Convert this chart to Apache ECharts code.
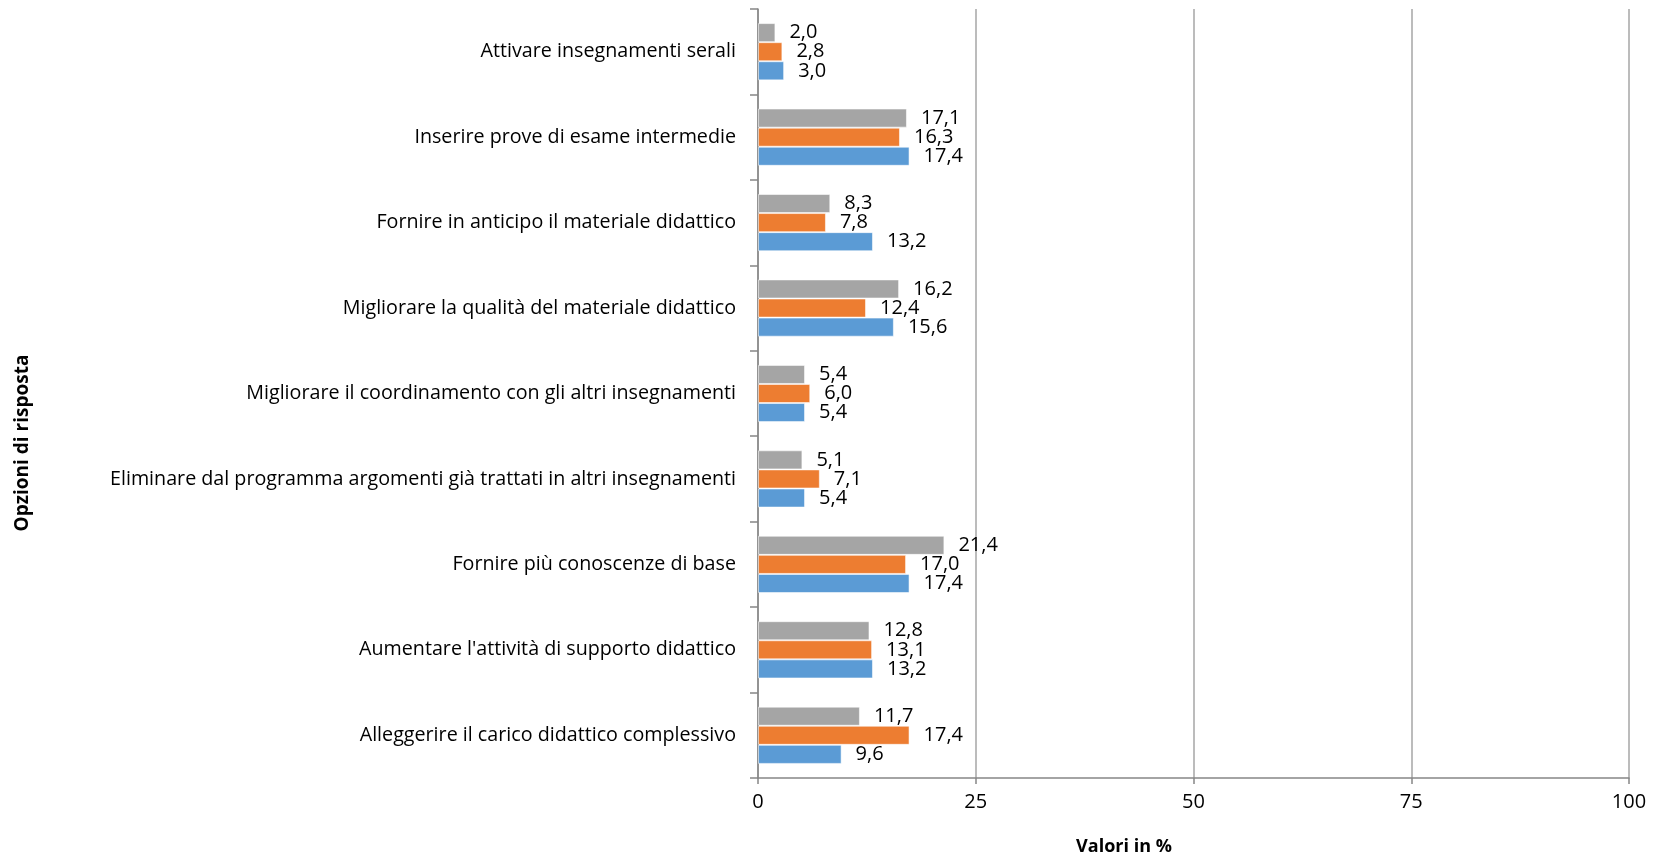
<!DOCTYPE html>
<html>
<head>
<meta charset="utf-8">
<style>
  html, body { margin: 0; padding: 0; background: #fff; }
  #chart { width: 1656px; height: 858px; }
</style>
<script src="https://cdn.jsdelivr.net/npm/echarts@6/dist/echarts.min.js"></script>
</head>
<body>
<div id="chart"></div>
<script>
// categories listed bottom to top (first one sits next to the value axis)
const categories = [
  'Alleggerire il carico didattico complessivo',
  "Aumentare l'attività di supporto didattico",
  'Fornire più conoscenze di base',
  'Eliminare dal programma argomenti già trattati in altri insegnamenti',
  'Migliorare il coordinamento con gli altri insegnamenti',
  'Migliorare la qualità del materiale didattico',
  'Fornire in anticipo il materiale didattico',
  'Inserire prove di esame intermedie',
  'Attivare insegnamenti serali'
]
const blueValues = [9.6, 13.2, 17.4, 5.4, 5.4, 15.6, 13.2, 17.4, 3.0]
const orangeValues = [17.4, 13.1, 17.0, 7.1, 6.0, 12.4, 7.8, 16.3, 2.8]
const grayValues = [11.7, 12.8, 21.4, 5.1, 5.4, 16.2, 8.3, 17.1, 2.0]
const valueTicks = [0, 25, 50, 75, 100]

const FONT = '"Open Sans", "Noto Sans", sans-serif'

const chart = echarts.init(document.getElementById('chart'))

const makeSeries = (name, data, color) => ({
  name,
  type: 'bar',
  data,
  barGap: '0%',
  barCategoryGap: '33%',
  itemStyle: { color, borderColor: 'rgba(255,255,255,0.55)', borderWidth: 1 },
  label: {
    show: true,
    position: 'right',
    distance: 14,
    color: '#000',
    fontFamily: FONT,
    fontSize: 20,
    formatter: p => p.value.toFixed(1).replace('.', ',')
  },
  emphasis: { disabled: true }
})

chart.setOption({
  animation: false,
  textStyle: { fontFamily: FONT },
  grid: { left: 758, right: 27, top: 9, bottom: 80, containLabel: false },
  xAxis: {
    type: 'value',
    min: valueTicks[0],
    max: valueTicks[valueTicks.length - 1],
    interval: 25,
    axisLine: { show: true, lineStyle: { color: '#868686', width: 1.5 } },
    axisTick: { show: true, length: 6, lineStyle: { color: '#868686', width: 1.5 } },
    axisLabel: { color: '#000', fontSize: 20, fontFamily: FONT, margin: 14 },
    splitLine: { show: true, lineStyle: { color: '#a6a6a6', width: 1.5 } }
  },
  yAxis: {
    type: 'category',
    data: categories,
    axisLine: { show: true, lineStyle: { color: '#868686', width: 1.5 } },
    axisTick: { show: true, length: 8, lineStyle: { color: '#868686', width: 1.5 } },
    axisLabel: { color: '#000', fontSize: 19.7, fontFamily: FONT, margin: 22 }
  },
  graphic: [
    {
      type: 'text',
      x: 1124,
      y: 847,
      style: {
        text: 'Valori in %',
        font: 'bold 18px ' + FONT,
        fill: '#000',
        align: 'center',
        verticalAlign: 'middle'
      }
    },
    {
      type: 'text',
      x: 23,
      y: 443,
      rotation: Math.PI / 2,
      style: {
        text: 'Opzioni di risposta',
        font: 'bold 19px ' + FONT,
        fill: '#000',
        align: 'center',
        verticalAlign: 'middle'
      }
    }
  ],
  // first series is drawn at the top of each band
  series: [
    makeSeries('Serie 3', grayValues, '#a5a5a5'),
    makeSeries('Serie 2', orangeValues, '#ed7d31'),
    makeSeries('Serie 1', blueValues, '#5b9bd5')
  ]
})
</script>
</body>
</html>
